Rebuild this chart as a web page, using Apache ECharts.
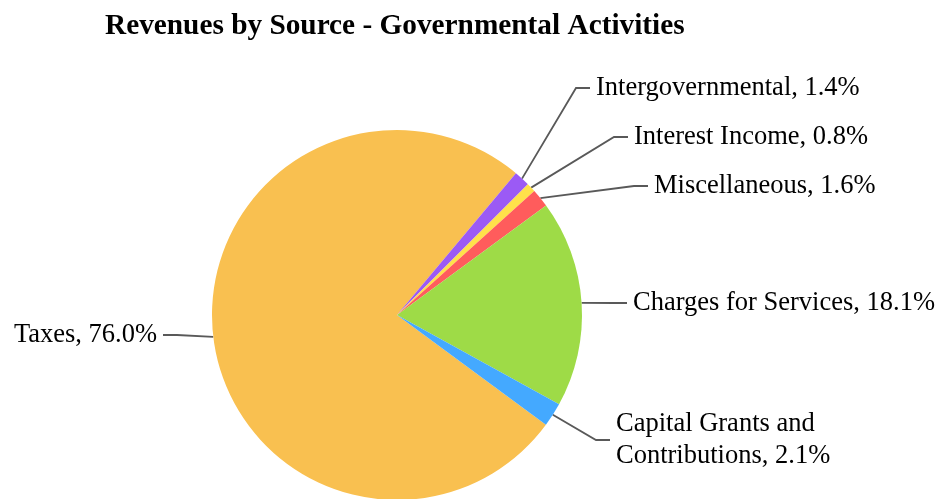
<!DOCTYPE html>
<html>
<head>
<meta charset="utf-8">
<script src="https://cdn.jsdelivr.net/npm/echarts@6/dist/echarts.min.js"></script>
<style>html,body{margin:0;padding:0;background:#fff}#c{width:941px;height:499px}</style>
</head>
<body>
<div id="c"></div>
<script>
var categories = ['Taxes', 'Intergovernmental', 'Interest Income', 'Miscellaneous', 'Charges for Services', 'Capital Grants and\nContributions'];
var values = [76.0, 1.4, 0.8, 1.6, 18.1, 2.1];
var colors = ['#F9C050', '#9B5AF5', '#FFE14A', '#FF5C5C', '#9EDB47', '#44A9FF'];

// label layout (rect edge x, center y, side)
var labelSpots = [
  [163, 335, 'right'],
  [590, 88, 'left'],
  [628, 137, 'left'],
  [648, 186, 'left'],
  [627, 303, 'left'],
  [610, 440, 'left']
];

var chart = echarts.init(document.getElementById('c'), null, {renderer: 'canvas'});
var data = categories.map(function (c, i) {
  return { name: c, value: values[i], itemStyle: { color: colors[i] } };
});
chart.setOption({
  animation: false,
  title: {
    text: 'Revenues by Source - Governmental Activities',
    left: 100, top: 7,
    textStyle: { fontFamily: 'Liberation Serif', fontWeight: 'bold', fontSize: 29.3, color: '#000' }
  },
  series: [{
    type: 'pie',
    center: [397, 315],
    radius: 185,
    startAngle: -36.4,
    clockwise: true,
    avoidLabelOverlap: false,
    data: data,
    label: {
      formatter: function (p) { return p.name + ', ' + p.value.toFixed(1) + '%'; },
      fontFamily: 'Liberation Serif',
      fontSize: 26.5,
      color: '#000',
      lineHeight: 32,
      padding: [0, 6]
    },
    labelLine: {
      length: 20,
      length2: 14,
      lineStyle: { color: '#595959', width: 1.8 }
    },
    labelLayout: function (p) {
      var s = labelSpots[p.dataIndex];
      return { x: s[0], y: s[1], align: s[2], verticalAlign: 'middle' };
    },
    emphasis: { disabled: true }
  }]
});
</script>
</body>
</html>
